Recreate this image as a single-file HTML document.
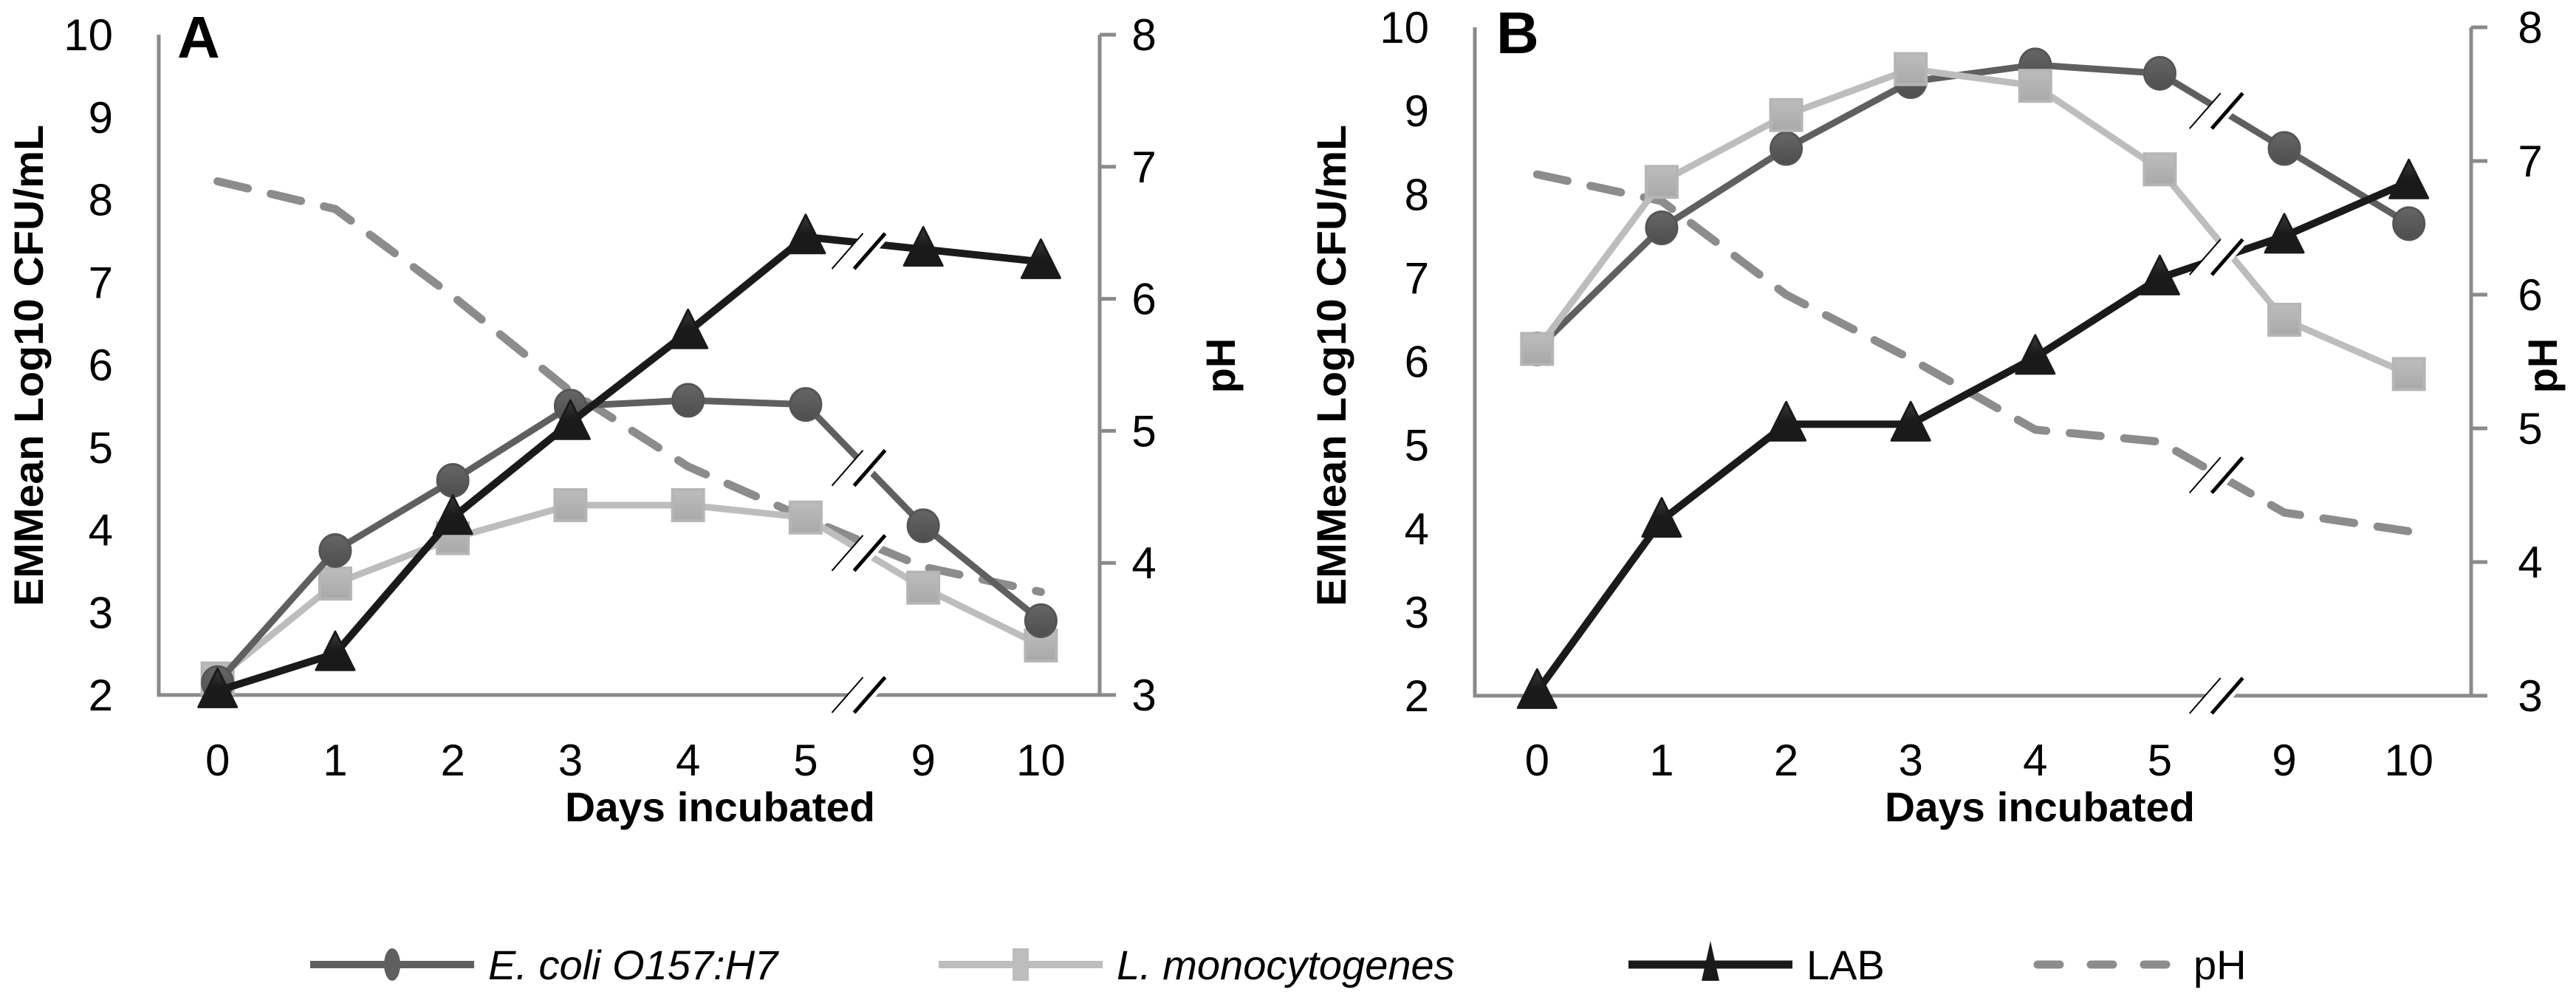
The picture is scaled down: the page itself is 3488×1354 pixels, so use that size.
<!DOCTYPE html>
<html><head><meta charset="utf-8">
<style>
html,body{margin:0;padding:0;background:#fff;}
svg{display:block;}
text{font-family:"Liberation Sans Narrow","Liberation Sans",sans-serif;fill:#000;}
</style></head>
<body>
<svg id="chart" width="3488" height="1354" viewBox="0 0 3488 1354" xmlns="http://www.w3.org/2000/svg">
<defs>
<linearGradient id="gEc" x1="0" y1="0" x2="0" y2="1"><stop offset="0" stop-color="#666"/><stop offset="1" stop-color="#4e4e4e"/></linearGradient>
<linearGradient id="gLm" x1="0" y1="0" x2="0" y2="1"><stop offset="0" stop-color="#bdbdbd"/><stop offset="1" stop-color="#a8a8a8"/></linearGradient>
<linearGradient id="gLab" x1="0" y1="0" x2="0" y2="1"><stop offset="0" stop-color="#3a3a3a"/><stop offset="0.5" stop-color="#1a1a1a"/><stop offset="1" stop-color="#1a1a1a"/></linearGradient>
</defs>
</svg>
<script>
const categories = ["0","1","2","3","4","5","9","10"];
const leftTicks = [2,3,4,5,6,7,8,9,10];
const rightTicks = [3,4,5,6,7,8];
const ecoliA = [2.15,3.75,4.6,5.5,5.57,5.52,4.05,2.9];
const lmonoA = [2.2,3.35,3.9,4.3,4.3,4.15,3.3,2.6];
const labA = [2.05,2.5,4.15,5.3,6.4,7.55,7.4,7.25];
const phA = [6.89,6.68,6.02,5.3,4.73,4.34,3.97,3.78];
const ecoliB = [6.15,7.6,8.55,9.35,9.55,9.45,8.55,7.65];
const lmonoB = [6.15,8.15,8.95,9.5,9.3,8.3,6.5,5.85];
const labB = [2.05,4.1,5.25,5.25,6.05,7.0,7.5,8.15];
const phB = [6.9,6.7,6.0,5.52,4.99,4.9,4.37,4.23];

const NS="http://www.w3.org/2000/svg";
const svg=document.getElementById('chart');
function mk(tag,attrs,parent){const e=document.createElementNS(NS,tag);for(const k in attrs)e.setAttribute(k,attrs[k]);(parent||svg).appendChild(e);return e;}

function panel(cfg){
  const g=mk('g',{});
  
  
  const L=cfg.left,R=cfg.right,T=cfg.top,B=cfg.bottom;
  const step=(R-L)/categories.length;
  const xs=i=>L+step*(i+0.5);
  const yL=v=>B-(v-2)/8*(B-T);
  const yR=v=>B-(v-3)/5*(B-T);
  const ax=mk('path',{d:`M${L},${T} L${L},${B} L${R},${B} M${R},${T} L${R},${B}`,stroke:'#8a8a8a','stroke-width':5,fill:'none'},g);
  
  
  rightTicks.forEach(v=>{
    const t=mk('line',{x1:R,x2:R+22,y1:yR(v),y2:yR(v),stroke:'#8a8a8a','stroke-width':5},g);
    
    
    const tx=mk('text',{x:R+cfg.rlab,y:yR(v)+21,'font-size':60,'text-anchor':'middle'},g);tx.textContent=v;
    
    
  });
  leftTicks.forEach(v=>{
    const tx=mk('text',{x:L-cfg.llab,y:yL(v)+21,'font-size':60,'text-anchor':'end'},g);tx.textContent=v;
    
    
  });
  categories.forEach((c,i)=>{
    const tx=mk('text',{x:xs(i),y:1050,'font-size':60,'text-anchor':'middle'},g);tx.textContent=c;
    
    
  });
  const xt=mk('text',{x:cfg.xtx,y:1112,'font-size':56,'font-weight':'bold','text-anchor':'middle',textLength:420,lengthAdjust:'spacingAndGlyphs'},g);xt.textContent='Days incubated';
  
  
  const yt=mk('text',{x:0,y:0,'font-size':56,'font-weight':'bold','text-anchor':'middle',textLength:652,lengthAdjust:'spacingAndGlyphs',transform:`translate(${cfg.ytx},495) rotate(-90)`},g);yt.textContent='EMMean Log10 CFU/mL';
  
  
  const pt=mk('text',{x:0,y:0,'font-size':56,'font-weight':'bold','text-anchor':'middle',transform:`translate(${cfg.phx},495) rotate(-90)`},g);pt.textContent='pH';
  
  
  const lt=mk('text',{x:cfg.letx,y:cfg.lety,'font-size':80,'font-weight':'bold','font-family':'Liberation Sans'},g);lt.textContent=cfg.id.toUpperCase();
  
  
  const pp=mk('polyline',{points:cfg.ph.map((v,i)=>xs(i)+','+yR(v)).join(' '),fill:'none',stroke:'#8c8c8c','stroke-width':11,'stroke-dasharray':'42 32','stroke-linecap':'round'},g);
  
  
  function series(vals,color,fillId,shape,name){
    const pl=mk('polyline',{points:vals.map((v,i)=>xs(i)+','+yL(v)).join(' '),fill:'none',stroke:color,'stroke-width':shape==='tri'?10:9,'stroke-linejoin':'round'},g);
    
    
    vals.forEach((v,i)=>{
      const x=xs(i),y=yL(v);let m;
      if(shape==='circ') m=mk('ellipse',{cx:x,cy:y,rx:21,ry:22,fill:'url(#'+fillId+')',stroke:'#555','stroke-width':3},g);
      else if(shape==='sq') m=mk('rect',{x:x-21,y:y-21,width:42,height:42,fill:'url(#'+fillId+')',stroke:'#b5b5b5','stroke-width':4},g);
      else m=mk('polygon',{points:`${x},${y-30} ${x+26},${y+22} ${x-26},${y+22}`,fill:'url(#'+fillId+')',stroke:'#1a1a1a','stroke-width':3,'stroke-linejoin':'round'},g);
      
      
    });
  }
  cfg.order.forEach(s=>series(s[0],s[1],s[2],s[3],s[4]));
  const bx=L+step*6;
  cfg.breaks.forEach(by=>{
    const bg=mk('g',{},g);
    
    
    mk('polygon',{points:`${bx-44},${by+24} ${bx-2},${by-24} ${bx+38},${by-24} ${bx-4},${by+24}`,fill:'#fff'},bg);
    mk('line',{x1:bx-44,y1:by+24,x2:bx-2,y2:by-24,stroke:'#000','stroke-width':2},bg);
    mk('line',{x1:bx-14,y1:by+24,x2:bx+28,y2:by-24,stroke:'#000','stroke-width':5},bg);
  });
}

panel({id:'a',left:215,right:1489,top:47,bottom:941,rlab:60,llab:62,xtx:975,ytx:58,phx:1672,letx:240,lety:78,
  ph:phA,
  order:[[lmonoA,'#bdbdbd','gLm','sq','l-monocytogenes'],[ecoliA,'#5f5f5f','gEc','circ','e-coli'],[labA,'#1a1a1a','gLab','tri','lab']],
  breaks:[340,(941-(4.75-2)/8*894),(941-(3.72-2)/8*894),941]});
panel({id:'b',left:1997,right:3346,top:37,bottom:942,rlab:80,llab:62,xtx:2762,ytx:1822,phx:3462,letx:2026,lety:72,
  ph:phB,
  order:[[ecoliB,'#5f5f5f','gEc','circ','e-coli'],[lmonoB,'#bdbdbd','gLm','sq','l-monocytogenes'],[labB,'#1a1a1a','gLab','tri','lab']],
  breaks:[(942-(9.0-2)/8*905),(942-(7.25-2)/8*905),(942-(4.65-3)/5*905),942]});

const lg=mk('g',{});


const legendY=1306;
function legEntry(x1,x2,tx,label,color,shape,italic,name){
  const e=mk('g',{},lg);
  
  
  const mx=(x1+x2)/2;
  if(shape==='dash'){
    mk('line',{x1:x1+8,x2:x2,y1:legendY,y2:legendY,stroke:color,'stroke-width':11,'stroke-dasharray':'30 42','stroke-linecap':'round'},e);
  } else {
    mk('line',{x1:x1,x2:x2,y1:legendY,y2:legendY,stroke:color,'stroke-width':shape==='tri'?11:10},e);
    if(shape==='circ') mk('ellipse',{cx:mx,cy:legendY,rx:11,ry:22,fill:'#5f5f5f'},e);
    if(shape==='sq') mk('rect',{x:mx-11,y:legendY-22,width:22,height:44,fill:'#bdbdbd'},e);
    if(shape==='tri') mk('polygon',{points:`${mx},${legendY-32} ${mx+12},${legendY+22} ${mx-12},${legendY+22}`,fill:'#1a1a1a'},e);
  }
  const t=mk('text',{x:tx,y:legendY+20,'font-size':56,'font-style':italic?'italic':'normal'},e);t.textContent=label;
}
legEntry(420,642,661,'E. coli O157:H7','#5f5f5f','circ',true,'e-coli');
legEntry(1271,1493,1512,'L. monocytogenes','#bdbdbd','sq',true,'l-monocytogenes');
legEntry(2205,2427,2446,'LAB','#1a1a1a','tri',false,'lab');
legEntry(2751,2955,2970,'pH','#8c8c8c','dash',false,'ph');
</script>
</body></html>
